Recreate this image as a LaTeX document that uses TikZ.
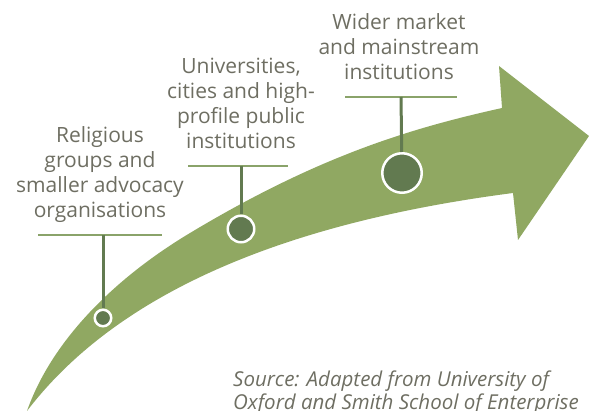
\documentclass[tikz,border=0pt]{standalone}
\usepackage{fontspec}
\setmainfont{Open Sans}
\definecolor{arrowgreen}{HTML}{90A862}
\definecolor{dotgreen}{HTML}{627A50}
\definecolor{rulegreen}{HTML}{8AA36A}
\definecolor{textgray}{HTML}{6E6E62}
\begin{document}
\begin{tikzpicture}[x=1pt,y=-1pt,
  lbl/.style={font=\fontsize{21}{25}\selectfont, text=textgray, align=center, inner sep=0pt, anchor=south},
  rulebar/.style={draw=rulegreen, line width=2pt},
  stem/.style={draw=dotgreen, line width=3pt},
  dot/.style={circle, fill=dotgreen, draw=white, line width=2.5pt, inner sep=0pt}]
\useasboundingbox (0,0) rectangle (589,411);
\clip (0,0) rectangle (589,411);
% arrow
\fill[arrowgreen] (27,411)
  .. controls (52,340) and (115,278) .. (190,233)
  .. controls (320,155) and (412,128) .. (502,108)
  -- (499,66) -- (589,136) -- (518,240) -- (513,193)
  .. controls (313,219) and (127,280) .. (27,411) -- cycle;
% rules and stems
\coordinate (r1l) at (38,235); \coordinate (r1r) at (162,235); \coordinate (r1) at (103,235);
\coordinate (r2l) at (188,166); \coordinate (r2r) at (288,166); \coordinate (r2) at (241,166);
\coordinate (r3l) at (345,97); \coordinate (r3r) at (457,97); \coordinate (r3) at (401,97);
\node[dot, minimum size=16.5pt] (d1) at (103,318) {};
\node[dot, minimum size=26.5pt] (d2) at (241,229) {};
\node[dot, minimum size=39.5pt] (d3) at (402,173) {};
\draw[rulebar] (r1l) -- (r1r);
\draw[rulebar] (r2l) -- (r2r);
\draw[rulebar] (r3l) -- (r3r);
\draw[stem] (r1) -- (d1);
\draw[stem] (r2) -- (d2);
\draw[stem] (r3) -- (d3);
% labels
\node[lbl] (t1) at (100,225.5) {Religious\\groups and\\smaller advocacy\\organisations\strut};
\node[lbl] (t2) at (241,156.5) {Universities,\\cities and high-\\profile public\\institutions\strut};
\node[lbl] (t3) at (399,87.5) {Wider market\\and mainstream\\institutions\strut};
\node[font=\fontsize{20.5}{23}\selectfont\itshape, text=textgray, align=left, inner sep=0pt, anchor=north west] (src) at (233,371) {Source: Adapted from University of\\Oxford and Smith School of Enterprise};
\end{tikzpicture}
\end{document}
